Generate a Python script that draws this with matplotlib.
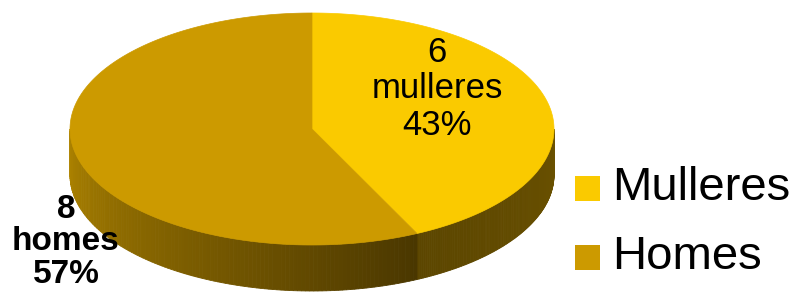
import numpy as np
import matplotlib.pyplot as plt
from matplotlib.patches import Polygon, Rectangle
from matplotlib.colors import to_rgb

# datos
categorias = ["Mulleres", "Homes"]
etiquetas = ["mulleres", "homes"]
valores = [6, 8]
cores_top = ["#FACA00", "#CC9A00"]

plt.rcParams['font.family'] = ['Liberation Sans', 'DejaVu Sans']

fig = plt.figure(figsize=(7.95, 2.95), dpi=100)
ax = fig.add_axes([0, 0, 1, 1])
ax.set_xlim(0, 795)
ax.set_ylim(295, 0)
ax.axis("off")

# xeometría da torta 3D (en píxeles)
cx, cy = 312, 129
rx, ry = 242, 116
fondo = 46

def punto(t):
    t = np.radians(t)
    return cx + rx * np.cos(t), cy - ry * np.sin(t)

total = sum(valores)
angulos = [90]
for v in valores:
    angulos.append(angulos[-1] - 360 * v / total)

def mestura(c1, c2, f):
    a, b = np.array(to_rgb(c1)), np.array(to_rgb(c2))
    return a + (b - a) * f

# lado visible (t entre -180 e 0)
corte = angulos[1]          # límite mulleres / homes
lados = [
    (corte, 0, "#5C4600", "#6A5100"),     # mulleres
    (-180, corte, "#B08500", "#4A3700"),  # homes
]
for t0, t1, c0, c1 in lados:
    ts = np.linspace(t0, t1, 120)
    for i in range(len(ts) - 1):
        xa, ya = punto(ts[i])
        xb, yb = punto(ts[i + 1])
        f = (i + 0.5) / (len(ts) - 1)
        ax.add_patch(Polygon([(xa, ya), (xb, yb), (xb, yb + fondo), (xa, ya + fondo)],
                             closed=True, facecolor=mestura(c0, c1, f),
                             edgecolor=mestura(c0, c1, f), lw=0.6))

# cara superior
for i, v in enumerate(valores):
    ts = np.linspace(angulos[i], angulos[i + 1], 200)
    pts = [(cx, cy)] + [punto(t) for t in ts]
    ax.add_patch(Polygon(pts, closed=True, facecolor=cores_top[i],
                         edgecolor=cores_top[i], lw=0.5))

# etiquetas
ax.text(437, 89, f"{valores[0]}\n{etiquetas[0]}\n{round(100 * valores[0] / total)}%",
        ha="center", va="center", fontsize=25, linespacing=1.12)
ax.text(66, 242, f"{valores[1]}\n{etiquetas[1]}\n{round(100 * valores[1] / total)}%",
        ha="center", va="center", fontsize=24, fontweight="bold", linespacing=1.08)

# lenda
for i, nome in enumerate(categorias):
    y = 188 + i * 69
    ax.add_patch(Rectangle((575, y - 12), 25, 25, facecolor=cores_top[i], edgecolor="none"))
    ax.text(612, y, nome, ha="left", va="center", fontsize=34)

fig.savefig("out.png", dpi=100)
